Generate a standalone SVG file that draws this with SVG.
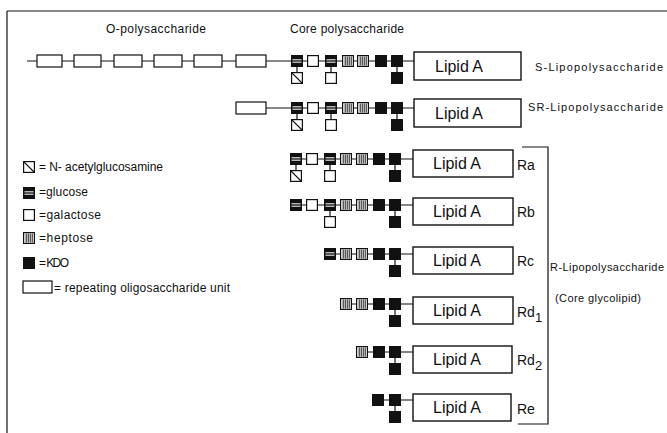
<svg xmlns="http://www.w3.org/2000/svg" width="667" height="433" viewBox="0 0 667 433">
  <style>
    text { font-family: "Liberation Sans", Arial, sans-serif; fill: #111; }
    .ln { stroke: #111; stroke-width: 1.2; fill: none; }
    .unit { fill: #fff; stroke: #111; stroke-width: 1.2; }
    .box { fill: #fff; stroke: #111; stroke-width: 1.4; }
    .lipid { font-size: 16px; }
    .head { font-size: 12px; }
    .leg { font-size: 12px; }
    .side { font-size: 11px; }
    .rlab { font-size: 14px; }
  </style>
  <defs>
    <!-- sugar residues, 12 x 12 -->
    <symbol id="kdo" viewBox="0 0 12 12" width="12" height="12">
      <rect x="0.5" y="0.5" width="11" height="11" fill="#111" stroke="#111"/>
    </symbol>
    <symbol id="glc" viewBox="0 0 12 12" width="12" height="12">
      <rect x="0.5" y="0.5" width="11" height="11" fill="#111" stroke="#111"/>
      <line x1="1.5" y1="4.8" x2="10.5" y2="4.8" stroke="#fff" stroke-width="1"/>
      <line x1="1.5" y1="7.2" x2="10.5" y2="7.2" stroke="#fff" stroke-width="1"/>
    </symbol>
    <symbol id="gal" viewBox="0 0 12 12" width="12" height="12">
      <rect x="0.6" y="0.6" width="10.8" height="10.8" fill="#fff" stroke="#111" stroke-width="1.2"/>
    </symbol>
    <symbol id="hep" viewBox="0 0 12 12" width="12" height="12">
      <rect x="0.6" y="0.6" width="10.8" height="10.8" fill="#fff" stroke="#111" stroke-width="1.2"/>
      <path d="M3.2 1.5V10.5M5.2 1.5V10.5M7.2 1.5V10.5M9.2 1.5V10.5" stroke="#111" stroke-width="1"/>
    </symbol>
    <symbol id="nag" viewBox="0 0 12 12" width="12" height="12">
      <rect x="0.6" y="0.6" width="10.8" height="10.8" fill="#fff" stroke="#111" stroke-width="1.2"/>
      <line x1="1" y1="1" x2="11" y2="11" stroke="#111" stroke-width="1.1"/>
    </symbol>
  </defs>

  <rect width="667" height="433" fill="#fff"/>

  <!-- page frame -->
  <g id="frame" class="ln">
    <line x1="7" y1="11" x2="667" y2="11"/>
    <line x1="7" y1="11" x2="7" y2="433"/>
  </g>

  <!-- column headings -->
  <g id="headings">
    <text class="head" x="106" y="33" textLength="100">O-polysaccharide</text>
    <text class="head" x="290" y="33" textLength="114">Core  polysaccharide</text>
  </g>

  <!-- glycosidic links -->
  <g id="connectors" class="ln">
    <!-- S -->
    <line x1="27" y1="61" x2="414" y2="61"/>
    <path d="M297 66V72M331 66V72M397 66V72"/>
    <!-- SR -->
    <line x1="266" y1="108" x2="414" y2="108"/>
    <path d="M297 113V119M331 113V119M397 113V119"/>
    <!-- Ra -->
    <line x1="296" y1="159" x2="413" y2="159"/>
    <path d="M296 164V170M330 164V170M395 164V170"/>
    <!-- Rb -->
    <line x1="296" y1="205" x2="413" y2="205"/>
    <path d="M330 210V216M395 210V216"/>
    <!-- Rc -->
    <line x1="330" y1="254" x2="413" y2="254"/>
    <path d="M395 259V265"/>
    <!-- Rd1 -->
    <line x1="346" y1="304" x2="413" y2="304"/>
    <path d="M395 309V315"/>
    <!-- Rd2 -->
    <line x1="362" y1="352" x2="413" y2="352"/>
    <path d="M395 357V363"/>
    <!-- Re -->
    <line x1="379" y1="400" x2="413" y2="400"/>
    <path d="M395 405V411"/>
  </g>

  <!-- S-lipopolysaccharide -->
  <g id="row-S">
    <rect class="unit" x="37" y="55" width="25" height="12"/>
    <rect class="unit" x="74" y="55" width="27" height="12"/>
    <rect class="unit" x="114" y="55" width="28" height="12"/>
    <rect class="unit" x="154" y="55" width="28" height="12"/>
    <rect class="unit" x="194" y="55" width="28" height="12"/>
    <rect class="unit" x="236" y="55" width="30" height="12"/>
    <use href="#glc" x="291" y="55"/>
    <use href="#gal" x="307" y="55"/>
    <use href="#glc" x="325" y="55"/>
    <use href="#hep" x="342" y="55"/>
    <use href="#hep" x="357" y="55"/>
    <use href="#kdo" x="375" y="55"/>
    <use href="#kdo" x="391" y="55"/>
    <use href="#nag" x="291" y="72"/>
    <use href="#gal" x="325" y="72"/>
    <use href="#kdo" x="391" y="72"/>
  </g>
  <g id="lipidA-S">
    <rect class="box" x="414" y="52" width="107" height="28"/>
    <text class="lipid" x="435" y="72">Lipid  A</text>
  </g>
  <text class="side" x="535" y="71" textLength="128">S-Lipopolysaccharide</text>

  <!-- SR-lipopolysaccharide -->
  <g id="row-SR">
    <rect class="unit" x="236" y="102" width="30" height="12"/>
    <use href="#glc" x="291" y="102"/>
    <use href="#gal" x="307" y="102"/>
    <use href="#glc" x="325" y="102"/>
    <use href="#hep" x="342" y="102"/>
    <use href="#hep" x="357" y="102"/>
    <use href="#kdo" x="375" y="102"/>
    <use href="#kdo" x="391" y="102"/>
    <use href="#nag" x="291" y="119"/>
    <use href="#gal" x="325" y="119"/>
    <use href="#kdo" x="391" y="119"/>
  </g>
  <g id="lipidA-SR">
    <rect class="box" x="414" y="99" width="107" height="28"/>
    <text class="lipid" x="435" y="119">Lipid  A</text>
  </g>
  <text class="side" x="528" y="111" textLength="135">SR-Lipopolysaccharide</text>

  <!-- Ra -->
  <g id="row-Ra">
    <use href="#glc" x="290" y="153"/>
    <use href="#gal" x="306" y="153"/>
    <use href="#glc" x="324" y="153"/>
    <use href="#hep" x="340" y="153"/>
    <use href="#hep" x="356" y="153"/>
    <use href="#kdo" x="373" y="153"/>
    <use href="#kdo" x="389" y="153"/>
    <use href="#nag" x="290" y="170"/>
    <use href="#gal" x="324" y="170"/>
    <use href="#kdo" x="389" y="170"/>
  </g>
  <g id="lipidA-Ra">
    <rect class="box" x="413" y="150" width="100" height="27"/>
    <text class="lipid" x="433" y="169">Lipid  A</text>
  </g>
  <text class="rlab" x="517" y="170">Ra</text>

  <!-- Rb -->
  <g id="row-Rb">
    <use href="#glc" x="290" y="199"/>
    <use href="#gal" x="306" y="199"/>
    <use href="#glc" x="324" y="199"/>
    <use href="#hep" x="340" y="199"/>
    <use href="#hep" x="356" y="199"/>
    <use href="#kdo" x="373" y="199"/>
    <use href="#kdo" x="389" y="199"/>
    <use href="#gal" x="324" y="216"/>
    <use href="#kdo" x="389" y="216"/>
  </g>
  <g id="lipidA-Rb">
    <rect class="box" x="413" y="198" width="100" height="27"/>
    <text class="lipid" x="433" y="217">Lipid  A</text>
  </g>
  <text class="rlab" x="517" y="217">Rb</text>

  <!-- Rc -->
  <g id="row-Rc">
    <use href="#glc" x="324" y="248"/>
    <use href="#hep" x="340" y="248"/>
    <use href="#hep" x="356" y="248"/>
    <use href="#kdo" x="373" y="248"/>
    <use href="#kdo" x="389" y="248"/>
    <use href="#kdo" x="389" y="265"/>
  </g>
  <g id="lipidA-Rc">
    <rect class="box" x="413" y="247" width="100" height="27"/>
    <text class="lipid" x="433" y="266">Lipid  A</text>
  </g>
  <text class="rlab" x="517" y="266">Rc</text>

  <!-- Rd1 -->
  <g id="row-Rd1">
    <use href="#hep" x="340" y="298"/>
    <use href="#hep" x="356" y="298"/>
    <use href="#kdo" x="373" y="298"/>
    <use href="#kdo" x="389" y="298"/>
    <use href="#kdo" x="389" y="315"/>
  </g>
  <g id="lipidA-Rd1">
    <rect class="box" x="413" y="297" width="100" height="27"/>
    <text class="lipid" x="433" y="316">Lipid  A</text>
  </g>
  <text class="rlab" x="517" y="317">Rd<tspan font-size="13" dy="5">1</tspan></text>

  <!-- Rd2 -->
  <g id="row-Rd2">
    <use href="#hep" x="356" y="346"/>
    <use href="#kdo" x="373" y="346"/>
    <use href="#kdo" x="389" y="346"/>
    <use href="#kdo" x="389" y="363"/>
  </g>
  <g id="lipidA-Rd2">
    <rect class="box" x="413" y="346" width="99" height="27"/>
    <text class="lipid" x="433" y="365">Lipid  A</text>
  </g>
  <text class="rlab" x="517" y="365">Rd<tspan font-size="13" dy="5">2</tspan></text>

  <!-- Re -->
  <g id="row-Re">
    <use href="#kdo" x="372" y="394"/>
    <use href="#kdo" x="389" y="394"/>
    <use href="#kdo" x="389" y="411"/>
  </g>
  <g id="lipidA-Re">
    <rect class="box" x="413" y="394" width="98" height="27"/>
    <text class="lipid" x="433" y="413">Lipid  A</text>
  </g>
  <text class="rlab" x="517" y="414">Re</text>

  <!-- bracket grouping the R forms -->
  <g id="r-bracket">
    <path class="ln" d="M522 147H548V424H518"/>
    <text class="side" x="550" y="271" textLength="114">R-Lipopolysaccharide</text>
    <text class="side" x="555" y="302" textLength="86">(Core glycolipid)</text>
  </g>

  <!-- key -->
  <g id="legend">
    <use href="#nag" x="23" y="161"/>
    <text class="leg" x="39" y="171" textLength="124">= N- acetylglucosamine</text>
    <use href="#glc" x="23" y="187"/>
    <text class="leg" x="39" y="196" textLength="49">=glucose</text>
    <use href="#gal" x="23" y="209"/>
    <text class="leg" x="39" y="219" textLength="62">=galactose</text>
    <use href="#hep" x="23" y="232"/>
    <text class="leg" x="39" y="242" textLength="54">=heptose</text>
    <use href="#kdo" x="23" y="257"/>
    <text class="leg" x="39" y="267" textLength="30">= KDO</text>
    <rect class="unit" x="23" y="281" width="29" height="12"/>
    <text class="leg" x="54" y="292" textLength="176">= repeating oligosaccharide unit</text>
  </g>
</svg>
